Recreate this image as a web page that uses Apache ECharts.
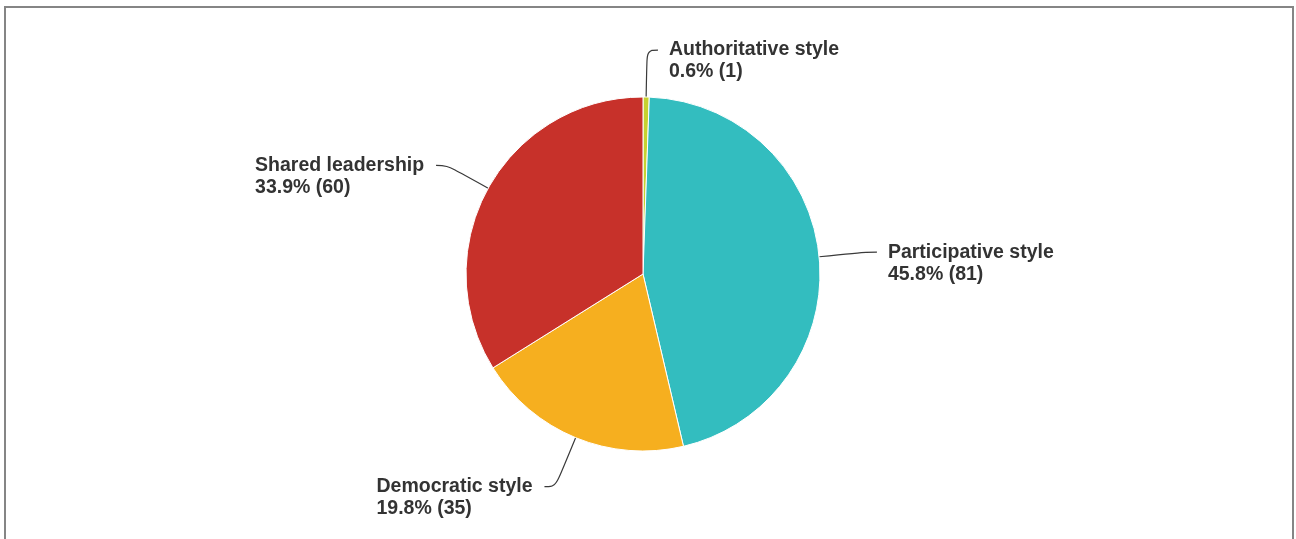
<!DOCTYPE html>
<html>
<head>
<meta charset="utf-8">
<script src="https://cdn.jsdelivr.net/npm/echarts@6/dist/echarts.min.js"></script>
<style>
  html, body { margin: 0; padding: 0; background: #fff; overflow: hidden; }
  #frame { position: absolute; left: 4px; top: 6px; width: 1286px; height: 600px; border: 2px solid #858585; }
  #chart { position: absolute; left: 0; top: 0; width: 1296px; height: 539px; }
</style>
</head>
<body>
<div id="frame"></div>
<div id="chart"></div>
<script>
// Leadership styles, clockwise from the top of the pie
const categories = ['Authoritative style', 'Participative style', 'Democratic style', 'Shared leadership'];
const counts = [1, 81, 35, 60];
const colors = ['#c6d230', '#33bdbf', '#f6af1f', '#c7312a'];

const total = counts.reduce((a, b) => a + b, 0);

const FONT_FAMILY = '"Liberation Sans", Arial, sans-serif';
const FONT_SIZE = 19.5;
const LINE_HEIGHT = 22;

function pctText(v) {
  return (v / total * 100).toFixed(1) + '% (' + v + ')';
}

// Each label is a left-aligned two-line block; measure its widest line
const ctx = document.createElement('canvas').getContext('2d');
ctx.font = 'bold ' + FONT_SIZE + 'px ' + FONT_FAMILY;
const rich = {
  s: { fontSize: FONT_SIZE, lineHeight: LINE_HEIGHT }
};
categories.forEach((name, i) => {
  const w = Math.ceil(Math.max(ctx.measureText(name).width, ctx.measureText(pctText(counts[i])).width));
  rich['t' + i] = {
    width: w,
    align: 'left',
    color: '#333333',
    fontFamily: FONT_FAMILY,
    fontWeight: 'bold',
    fontSize: FONT_SIZE,
    lineHeight: LINE_HEIGHT
  };
});

const chart = echarts.init(document.getElementById('chart'), null, { renderer: 'canvas' });

chart.setOption({
  animation: false,
  backgroundColor: 'transparent',
  series: [{
    type: 'pie',
    center: [643, 274],
    radius: 177,
    startAngle: 90,
    clockwise: true,
    data: categories.map((name, i) => {
      const item = { name, value: counts[i], itemStyle: { color: colors[i] } };
      // the bottom connector reaches a little further down
      if (name === 'Democratic style') item.labelLine = { length: 53 };
      return item;
    }),
    itemStyle: { borderColor: '#ffffff', borderWidth: 1 },
    label: {
      show: true,
      position: 'outside',
      distanceToLabelLine: 11,
      lineHeight: LINE_HEIGHT,
      fontSize: FONT_SIZE,
      rich: rich,
      // blank first line keeps the connector level with the category name
      formatter: p => '{s| }\n{t' + p.dataIndex + '|' + p.name + '}\n{t' + p.dataIndex + '|' + pctText(p.value) + '}'
    },
    labelLine: {
      show: true,
      length: 47,
      length2: 11,
      smooth: 0.4,
      lineStyle: { color: '#3a3a3a', width: 1.2 }
    },
    emphasis: { disabled: true }
  }]
});
</script>
</body>
</html>
